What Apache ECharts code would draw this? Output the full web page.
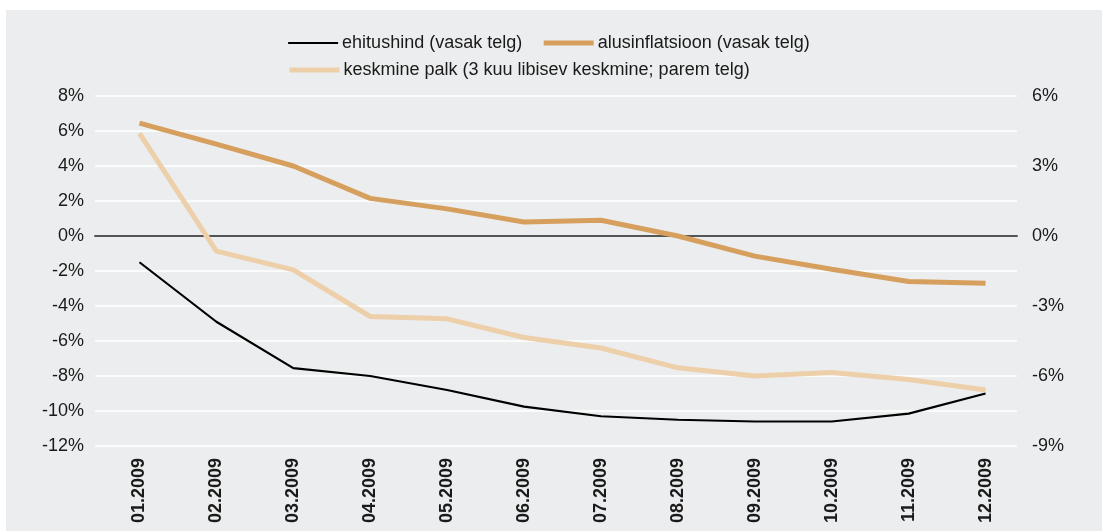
<!DOCTYPE html>
<html><head><meta charset="utf-8">
<script src="https://cdn.jsdelivr.net/npm/echarts@6/dist/echarts.min.js"></script>
<style>html,body{margin:0;padding:0;background:#fff}#c{width:1102px;height:531px}</style>
</head><body><div id="c"></div>
<script>
var categories = ['01.2009','02.2009','03.2009','04.2009','05.2009','06.2009','07.2009','08.2009','09.2009','10.2009','11.2009','12.2009'];
var ehitushind = [-1.5, -4.9, -7.55, -8.0, -8.8, -9.75, -10.3, -10.5, -10.6, -10.6, -10.15, -9.0];
var alusinflatsioon = [6.45, 5.25, 4.0, 2.15, 1.55, 0.8, 0.9, 0.0, -1.15, -1.9, -2.6, -2.7];
var keskminePalk = [4.4, -0.65, -1.45, -3.45, -3.55, -4.35, -4.8, -5.65, -6.0, -5.85, -6.15, -6.6];
var names = ['ehitushind (vasak telg)', 'alusinflatsioon (vasak telg)', 'keskmine palk (3 kuu libisev keskmine; parem telg)'];
var leftTicks = {min: -12, max: 8, interval: 2};
var rightTicks = {min: -9, max: 6, interval: 3};

var chart = echarts.init(document.getElementById('c'), null, {renderer: 'canvas'});
var txt = '#1a1a1a';
var font = 'Liberation Sans, Arial, sans-serif';
var legendBase = {
  orient: 'horizontal', left: 287, padding: 0, itemWidth: 50, itemHeight: 14, itemGap: 19,
  itemStyle: {color: 'transparent', borderColor: 'transparent', borderWidth: 0, opacity: 0},
  lineStyle: {width: 'inherit'},
  textStyle: {fontSize: 18, color: txt, fontFamily: font, padding: [0,0,0,-1]}
};
chart.setOption({
  backgroundColor: '#ffffff',
  animation: false,
  graphic: [{type: 'rect', shape: {x: 6, y: 10, width: 1096, height: 521}, style: {fill: '#ECEDEE'}, z: -10, silent: true}],
  legend: [
    Object.assign({}, legendBase, {top: 34, data: [names[0], names[1]]}),
    Object.assign({}, legendBase, {top: 61, data: [names[2]]})
  ],
  grid: [
    {left: 95, right: 85, top: 96, height: 350, containLabel: false},
    {left: 101, width: 923, top: 96, height: 350, containLabel: false}
  ],
  xAxis: [
    {type: 'category', gridIndex: 0, data: categories, z: 1,
     axisLine: {show: true, onZero: true, lineStyle: {color: '#555555', width: 2}},
     axisTick: {show: false}, axisLabel: {show: false}, splitLine: {show: false}},
    {type: 'category', gridIndex: 1, data: categories, boundaryGap: true,
     axisLine: {show: false}, axisTick: {show: false}, splitLine: {show: false},
     axisLabel: {rotate: 90, margin: 12, fontSize: 18, fontWeight: 'bold', color: txt, fontFamily: font, interval: 0}}
  ],
  yAxis: [
    {type: 'value', gridIndex: 0, position: 'left', min: leftTicks.min, max: leftTicks.max, interval: leftTicks.interval,
     axisLine: {show: false}, axisTick: {show: false},
     axisLabel: {margin: 11, fontSize: 18, color: txt, fontFamily: font, formatter: function(v){return v + '%';}},
     splitLine: {show: true, lineStyle: {color: '#ffffff', width: 1.5}}},
    {type: 'value', gridIndex: 0, position: 'right', min: rightTicks.min, max: rightTicks.max, interval: rightTicks.interval,
     axisLine: {show: false}, axisTick: {show: false},
     axisLabel: {margin: 15, fontSize: 18, color: txt, fontFamily: font, formatter: function(v){return v + '%';}},
     splitLine: {show: false}},
    {type: 'value', gridIndex: 1, min: leftTicks.min, max: leftTicks.max, interval: leftTicks.interval, show: false, splitLine: {show: false}},
    {type: 'value', gridIndex: 1, min: rightTicks.min, max: rightTicks.max, interval: rightTicks.interval, show: false, splitLine: {show: false}}
  ],
  series: [
    {name: names[0], type: 'line', xAxisIndex: 1, yAxisIndex: 2, data: ehitushind, symbol: 'none',
     lineStyle: {color: '#000000', width: 2.2}, itemStyle: {color: '#000000'}, z: 5},
    {name: names[1], type: 'line', xAxisIndex: 1, yAxisIndex: 2, data: alusinflatsioon, symbol: 'none',
     lineStyle: {color: '#D69F5E', width: 5}, itemStyle: {color: '#D69F5E'}, z: 4},
    {name: names[2], type: 'line', xAxisIndex: 1, yAxisIndex: 3, data: keskminePalk, symbol: 'none',
     lineStyle: {color: '#EDCFAA', width: 5}, itemStyle: {color: '#EDCFAA'}, z: 3}
  ]
});
</script></body></html>
